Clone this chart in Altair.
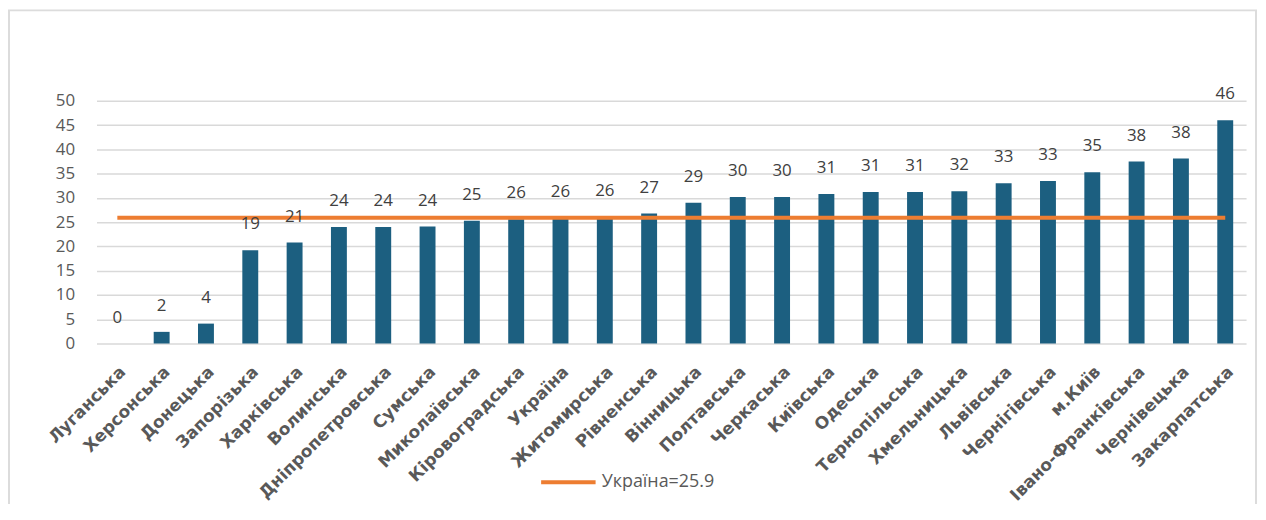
import altair as alt
import pandas as pd

regions = ["Луганська", "Херсонська", "Донецька", "Запорізька", "Харківська", "Волинська",
           "Дніпропетровська", "Сумська", "Миколаївська", "Кіровоградська", "Україна",
           "Житомирська", "Рівненська", "Вінницька", "Полтавська", "Черкаська", "Київська",
           "Одеська", "Тернопільська", "Хмельницька", "Львівська", "Чернігівська", "м.Київ",
           "Івано-Франківська", "Чернівецька", "Закарпатська"]
values = [0, 2.4, 4.1, 19.2, 20.8, 24.0, 24.0, 24.1, 25.3, 25.6, 25.9, 26.0, 26.8, 29.0,
          30.2, 30.2, 30.8, 31.2, 31.2, 31.4, 33.0, 33.5, 35.3, 37.5, 38.1, 46.0]
labels = ["0", "2", "4", "19", "21", "24", "24", "24", "25", "26", "26", "26", "27", "29",
          "30", "30", "31", "31", "31", "32", "33", "33", "35", "38", "38", "46"]
ukraine_avg = 25.9
legend_label = "Україна=25.9"
y_ticks = [0, 5, 10, 15, 20, 25, 30, 35, 40, 45, 50]

df = pd.DataFrame({"region": regions, "value": values, "label": labels,
                   "avg": [ukraine_avg] * len(regions),
                   "series": [legend_label] * len(regions)})

W, H = 1156, 244
font = "Open Sans"

x = alt.X("region:N", sort=regions,
          scale=alt.Scale(paddingInner=0.64, paddingOuter=0.29),
          axis=alt.Axis(title=None, labelAngle=-45, labelAlign="right", labelBaseline="top",
                        labelFontWeight="bold", labelFontSize=17, labelColor="#595959",
                        labelFont="DejaVu Sans", labelPadding=20, ticks=False, domain=False,
                        labelOverlap=False, labelLimit=300))
yscale = alt.Scale(domain=[0, 50])
yaxis = alt.Axis(title=None, values=y_ticks, grid=True,
                 gridColor="#d9d9d9", gridWidth=1.5, ticks=False, domain=False,
                 labelFontSize=17, labelColor="#595959", labelFont=font,
                 labelPadding=22, labelOverlap=False)

bars = alt.Chart(df).mark_bar(color="#1c5f80", size=16).encode(
    x=x, y=alt.Y("value:Q", scale=yscale, axis=yaxis))
texts = alt.Chart(df).mark_text(dy=-26, fontSize=17, color="#404040", font=font,
                                baseline="middle").encode(
    x=alt.X("region:N", sort=regions),
    y=alt.Y("value:Q", scale=yscale, axis=yaxis), text="label:N")
line = alt.Chart(df).mark_line(strokeWidth=4).encode(
    x=alt.X("region:N", sort=regions),
    y=alt.Y("avg:Q", scale=yscale, axis=yaxis),
    color=alt.Color("series:N", scale=alt.Scale(range=["#ED7D31"]),
                    legend=alt.Legend(title=None, orient="none", legendX=445, legendY=354,
                                      symbolType="stroke", symbolSize=3000,
                                      symbolStrokeWidth=4, labelFontSize=18,
                                      labelColor="#595959", labelFont=font)))

frame = alt.Chart(alt.Data(values=[{"a": 1}])).mark_rect(
    fill=None, stroke="#dcdcdc", strokeWidth=2).encode(
    x=alt.value(-88), x2=alt.value(1166), y=alt.value(-91), y2=alt.value(440))

chart = alt.layer(frame, bars, line, texts).properties(
    width=W, height=H,
    autosize=alt.AutoSizeParams(type="none"),
    padding={"left": 89, "top": 92, "right": 12, "bottom": 160},
).configure_view(stroke=None)

chart.save("out.html", embed_options={"renderer": "svg", "actions": False})
